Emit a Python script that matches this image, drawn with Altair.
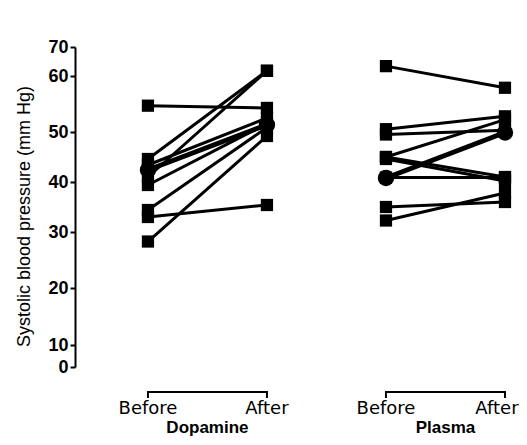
import altair as alt
import pandas as pd

# Values (mm Hg)
dop_before = [54.7, 44.6, 43.4, 41.0, 39.4, 34.4, 33.0, 28.3]
dop_after = [54.3, 61.8, 52.5, 61.8, 51.5, 50.8, 35.4, 49.2]
pla_before = [63.4, 50.5, 49.5, 45.0, 45.0, 44.6, 40.9, 35.0, 32.3]
pla_after = [57.9, 52.8, 50.3, 52.2, 41.0, 40.2, 40.9, 36.0, 37.8]
dop_mean = [42.4, 51.3]
pla_mean = [40.8, 49.9]

time_labels = ["Before", "After", "Before"]
last_label = ["After"]
group_labels = ["Dopamine", "Plasma"]
y_ticks = [0, 10, 20, 30, 40, 50, 60, 70]
# the scanned axis has uneven tick spacing; reproduce it with a piecewise scale
y_tick_px = [320, 298, 241, 185, 135, 85, 29, 0]

rows = []
for i, (b, a) in enumerate(zip(dop_before, dop_after)):
    rows.append({"subj": f"d{i}", "x": 0, "v": b})
    rows.append({"subj": f"d{i}", "x": 1, "v": a})
for i, (b, a) in enumerate(zip(pla_before, pla_after)):
    rows.append({"subj": f"p{i}", "x": 2, "v": b})
    rows.append({"subj": f"p{i}", "x": 3, "v": a})
subj = pd.DataFrame(rows)

means = pd.DataFrame([
    {"subj": "dm", "x": 0, "v": dop_mean[0]},
    {"subj": "dm", "x": 1, "v": dop_mean[1]},
    {"subj": "pm", "x": 2, "v": pla_mean[0]},
    {"subj": "pm", "x": 3, "v": pla_mean[1]},
])

xs = alt.Scale(domain=[-0.613, 3.017], nice=False, zero=False)
ys = alt.Scale(domain=y_ticks, range=y_tick_px, nice=False, zero=False)

X = alt.X("x:Q", scale=xs, axis=None)
Y = alt.Y(
    "v:Q",
    scale=ys,
    axis=alt.Axis(
        values=y_ticks,
        title="Systolic blood pressure (mm Hg)",
        titleFont="Liberation Sans",
        titleFontSize=18,
        titleFontWeight="normal",
        titleColor="black",
        titlePadding=14,
        titleY=169,
        labelFont="Liberation Sans",
        labelFontSize=18,
        labelFontWeight="bold",
        labelColor="black",
        labelPadding=2,
        domainColor="black",
        domainWidth=2,
        tickColor="black",
        tickWidth=2,
        tickSize=5,
        grid=False,
    ),
)

lines = alt.Chart(subj).mark_line(color="black", strokeWidth=3).encode(x=X, y=Y, detail="subj:N")
mlines = alt.Chart(means).mark_line(color="black", strokeWidth=5).encode(x=X, y=Y, detail="subj:N")
squares = alt.Chart(subj).mark_point(shape="square", filled=True, size=150, color="black", opacity=1).encode(x=X, y=Y)
circles = alt.Chart(means).mark_circle(size=270, color="black", opacity=1).encode(x=X, y=Y)

brk = pd.DataFrame({"x": [0, 2], "x2": [1, 3]})
bracket = alt.Chart(brk).mark_rule(color="black", strokeWidth=2).encode(
    x=alt.X("x:Q", scale=xs, axis=None), x2="x2:Q", y=alt.value(345)
)
ends = pd.DataFrame({"x": [0, 1, 2, 3]})
bracket_ends = alt.Chart(ends).mark_rule(color="black", strokeWidth=2).encode(
    x=alt.X("x:Q", scale=xs, axis=None), y=alt.value(344), y2=alt.value(351)
)

tl = pd.DataFrame({"x": [0, 1, 2], "t": time_labels})
tlabels = alt.Chart(tl).mark_text(
    font="DejaVu Sans", fontSize=18, color="black", baseline="alphabetic", align="center"
).encode(x=alt.X("x:Q", scale=xs, axis=None), y=alt.value(367), text="t:N")

tl2 = pd.DataFrame({"x": [3], "t": last_label})
tlabel_last = alt.Chart(tl2).mark_text(
    font="DejaVu Sans", fontSize=18, color="black", baseline="alphabetic", align="center", dx=-8
).encode(x=alt.X("x:Q", scale=xs, axis=None), y=alt.value(367), text="t:N")

gl = pd.DataFrame({"x": [0.5, 2.5], "t": group_labels})
glabels = alt.Chart(gl).mark_text(
    font="Liberation Sans", fontSize=17, fontWeight="bold", color="black", baseline="alphabetic", align="center"
).encode(x=alt.X("x:Q", scale=xs, axis=None), y=alt.value(386), text="t:N")

chart = alt.layer(
    lines, mlines, squares, circles, bracket, bracket_ends, tlabels, tlabel_last, glabels
).properties(
    width=432,
    height=320,
    autosize="none",
    padding={"left": 67, "top": 39, "right": 12, "bottom": 70},
    background="white",
).configure_view(stroke=None)

chart.save("out.html", embed_options={"renderer": "svg", "actions": False})
